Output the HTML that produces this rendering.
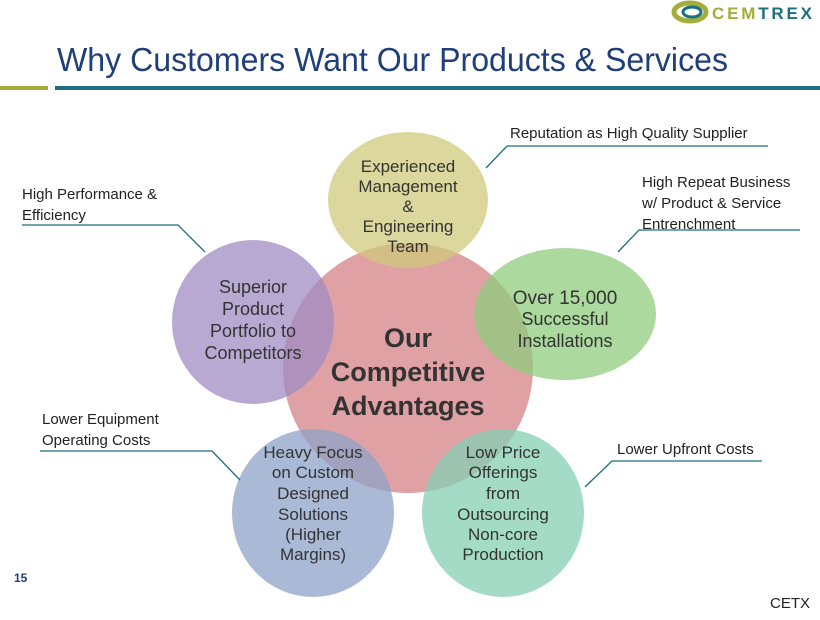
<!DOCTYPE html>
<html><head><meta charset="utf-8"><style>
body{margin:0;width:820px;height:615px;background:#fff;overflow:hidden;font-family:"Liberation Sans",sans-serif;}
</style></head><body>
<svg width="820" height="615" viewBox="0 0 820 615" xmlns="http://www.w3.org/2000/svg" font-family="Liberation Sans, sans-serif">
<!-- logo -->
<ellipse cx="690" cy="12" rx="16" ry="9" fill="none" stroke="#a3ae3a" stroke-width="5"/>
<ellipse cx="692" cy="12" rx="9" ry="5" fill="none" stroke="#1b6f80" stroke-width="3"/>
<text x="712" y="19" font-size="17" font-weight="bold" fill="#a3ae3a" letter-spacing="2" textLength="102">CEM<tspan fill="#1b6f80">TREX</tspan></text>
<!-- title -->
<text x="57" y="71" font-size="33" fill="#1f3f78" textLength="671" lengthAdjust="spacingAndGlyphs">Why Customers Want Our Products &amp; Services</text>
<rect x="0" y="86" width="48" height="4" fill="#a3ae3a"/>
<rect x="55" y="86" width="765" height="4" fill="#1b6f80"/>
<!-- circles -->
<circle cx="408" cy="368" r="125" fill="#d7868c" fill-opacity="0.78"/>
<ellipse cx="408" cy="200" rx="80" ry="68" fill="#cfc97c" fill-opacity="0.75"/>
<ellipse cx="565" cy="314" rx="91" ry="66" fill="#8fcc7e" fill-opacity="0.75"/>
<ellipse cx="253" cy="322" rx="81" ry="82" fill="#a08cc3" fill-opacity="0.75"/>
<ellipse cx="313" cy="513" rx="81" ry="84" fill="#8ea3c8" fill-opacity="0.75"/>
<ellipse cx="503" cy="513" rx="81" ry="84" fill="#86cfb3" fill-opacity="0.75"/>
<!-- circle text -->
<g font-size="17" fill="#333" text-anchor="middle">
<text x="408" y="172">Experienced</text><text x="408" y="192">Management</text><text x="408" y="212">&amp;</text><text x="408" y="232">Engineering</text><text x="408" y="252">Team</text>
<text x="565" y="304" font-size="19">Over 15,000</text><text x="565" y="325" font-size="18">Successful</text><text x="565" y="347" font-size="18">Installations</text>
<text x="253" y="293" font-size="18">Superior</text><text x="253" y="315" font-size="18">Product</text><text x="253" y="337" font-size="18">Portfolio to</text><text x="253" y="359" font-size="18">Competitors</text>
<text x="313" y="458">Heavy Focus</text><text x="313" y="478">on Custom</text><text x="313" y="499">Designed</text><text x="313" y="520">Solutions</text><text x="313" y="540">(Higher</text><text x="313" y="560">Margins)</text>
<text x="503" y="458">Low Price</text><text x="503" y="478">Offerings</text><text x="503" y="499">from</text><text x="503" y="520">Outsourcing</text><text x="503" y="540">Non-core</text><text x="503" y="560">Production</text>
<g font-size="27" font-weight="bold" fill="#333"><text x="408" y="347">Our</text><text x="408" y="381">Competitive</text><text x="408" y="415">Advantages</text></g>
</g>
<!-- callouts -->
<g font-size="15" fill="#222">
<text x="510" y="138">Reputation as High Quality Supplier</text>
<text x="642" y="187">High Repeat Business</text><text x="642" y="208">w/ Product &amp; Service</text><text x="642" y="229">Entrenchment</text>
<text x="22" y="199">High Performance &amp;</text><text x="22" y="220">Efficiency</text>
<text x="42" y="424">Lower Equipment</text><text x="42" y="445">Operating Costs</text>
<text x="617" y="454">Lower Upfront Costs</text>
</g>
<g stroke="#1b6f80" stroke-width="1.3" fill="none">
<polyline points="486,168 507,146 768,146"/>
<polyline points="618,252 639,230 800,230"/>
<polyline points="22,225 178,225 205,252"/>
<polyline points="40,451 212,451 240,480"/>
<polyline points="762,461 612,461 585,487"/>
</g>
<text x="14" y="582" font-size="12" font-weight="bold" fill="#1f3f78">15</text>
<text x="770" y="608" font-size="15" fill="#222">CETX</text>
</svg>
</body></html>
